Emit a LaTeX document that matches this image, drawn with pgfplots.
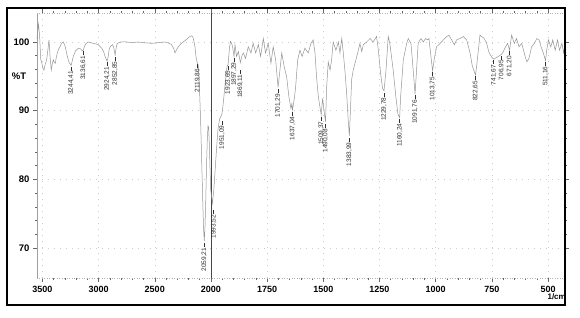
\documentclass[border=0pt]{standalone}
\usepackage{fontspec}
\setmainfont{Liberation Sans}
\usepackage{pgfplots}
\usepackage{pgfplotstable}
\pgfplotsset{compat=1.18}
\definecolor{curvegray}{HTML}{959595}
\definecolor{labgray}{HTML}{303030}
\pgfplotstableread{
nu T
3548 100.5
3535 102.6
3525 101.0
3515 97.5
3506 97.0
3496 96.2
3486 95.9
3474 96.8
3462 97.4
3450 99.0
3441 100.3
3432 98.0
3421 95.9
3412 96.8
3403 97.4
3394 97.0
3385 96.9
3376 97.8
3367 98.4
3355 99.0
3343 99.3
3330 99.8
3314 100.0
3300 99.5
3288 98.7
3278 97.9
3262 97.0
3244.41 96.6
3235 97.2
3225 97.9
3205 98.7
3181 99.1
3160 99.0
3145 98.7
3136.61 98.8
3125 99.4
3110 99.8
3092 100.0
3070 99.9
3047 99.8
3020 99.7
3003 99.6
2985 99.3
2972 99.1
2955 98.6
2940 97.8
2924.21 97.2
2915 97.8
2905 99.0
2893 99.4
2875 99.6
2865 99.2
2852.85 98.1
2843 99.2
2834 99.8
2800 100.0
2750 100.0
2700 99.9
2647 100.0
2600 99.9
2528 99.8
2470 99.9
2409 100.0
2370 99.8
2350 99.6
2330 99.0
2320 98.4
2305 98.9
2291 99.3
2270 99.7
2246 100.0
2215 100.4
2187 100.8
2172 100.9
2160 100.7
2150 100.0
2142 99.3
2133 97.9
2125 97.2
2119.86 96.9
2112 96.5
2105 94.5
2098 91.5
2090 87.5
2082 82.5
2074 77.5
2066 73.0
2059.21 71.0
2053 73.0
2046 77.0
2040 81.5
2033 85.5
2026 87.8
2020 87.5
2014 85.0
2008 81.5
2002 78.5
1993.52 76.5
1987 78.5
1981 81.5
1975 84.5
1968 87.5
1961 88.8
1955 89.2
1951.09 89.5
1946 90.8
1938 93.5
1930 96.0
1927 96.6
1923.65 96.7
1918 99.0
1913 100.1
1908 99.8
1903 99.2
1897.29 97.9
1893 99.6
1886 97.9
1878 98.6
1869.11 97.0
1862 98.0
1856 98.4
1846 97.6
1834 99.3
1822 98.4
1812 99.8
1801 98.4
1789 99.6
1779 97.9
1767 100.5
1757 98.4
1745 99.8
1733 96.9
1723 99.3
1712 97.4
1701.29 93.4
1693 95.9
1685 98.4
1674 96.4
1663 94.9
1653 92.0
1644 90.3
1640 91.0
1637.04 90.1
1628 92.0
1623 93.5
1614 97.4
1604 98.8
1594 97.9
1582 99.1
1567 98.4
1555 99.8
1545 100.3
1537 98.4
1530 94.9
1522 92.0
1509.37 89.4
1503 91.8
1497 90.0
1490.08 88.4
1485 93.5
1478 97.1
1470 95.9
1463 97.4
1456 100.0
1444 98.8
1433 100.0
1426 98.4
1418 100.5
1411 98.4
1404 95.9
1396 92.5
1389 88.5
1383.99 86.3
1378 91.1
1374 94.5
1367 95.9
1355 97.4
1344 98.8
1337 99.8
1329 98.6
1322 99.6
1307 100.0
1292 100.5
1278 100.0
1263 100.8
1255 98.8
1245 95.4
1236 93.2
1229.78 92.9
1221 95.9
1211 100.8
1204 99.8
1189 95.9
1177 92.0
1168 89.5
1160.24 89.0
1156 92.0
1144 97.4
1129 99.8
1122 100.5
1110 99.8
1100 95.9
1091.76 92.4
1085 95.9
1078 99.8
1066 100.5
1055 100.0
1045 100.5
1036 100.3
1030 100.5
1021 97.9
1013.75 95.8
1007 97.4
996 99.3
974 100.0
951 100.8
941 101.0
929 100.3
917 99.6
907 100.3
892 100.5
877 100.8
862 100.3
847 98.4
837 96.5
822.65 95.2
818 96.4
810 98.8
803 101.0
784 100.5
773 99.8
763 98.5
751 97.8
741.67 97.5
736 97.6
721 97.9
706.95 98.2
699 98.6
692 99.1
680 99.8
671.20 98.8
662 101.0
650 99.8
640 100.5
629 99.3
617 99.8
602 97.9
594 97.1
585 97.6
573 99.3
561 99.8
550 100.5
540 100.3
531 99.3
521 98.4
511.16 97.3
506 98.8
498 100.3
488 99.3
479 100.3
468 98.8
458 100.3
449 98.8
438 99.8
431 98.4
425 99.5
}\spectrum
\pgfplotstableread{
nu T lab
3244.41 96.5 3244,41
3136.61 98.7 3136,61
2924.21 97.1 2924,21
2852.85 97.9 2852,85
2119.86 96.8 2119,86
2059.21 70.8 2059,21
1987.5 75.6 1993,52
1951.09 88.6 1951,09
1923.65 96.6 1923,65
1897.29 97.8 1897,29
1869.11 96.0 1869,11
1701.29 93.2 1701,29
1637.04 89.9 1637,04
1509.37 89.2 1509,37
1490.08 88.1 1490,08
1383.99 86.1 1383,99
1229.78 92.7 1229,78
1160.24 88.9 1160,24
1091.76 92.3 1091,76
1013.75 95.7 1013,75
822.65 95.1 822,65
741.67 97.4 741,67
706.95 98.1 706,95
671.20 98.7 671,20
511.16 97.2 511,16
}\peaks
\begin{document}
\begin{tikzpicture}[x=1pt,y=1pt]
\useasboundingbox (0,0) rectangle (580,317);
\fill[white] (0,0) rectangle (580,317);
\begin{axis}[
  at={(37pt,39pt)}, anchor=south west,
  scale only axis, width=528pt, height=265pt,
  xmin=424.5, xmax=2774, ymin=65.63, ymax=104.22,
  x dir=reverse,
  xtick={500,750,1000,1250,1500,1750,2000,2250,2500,2750},
  xticklabels={500,750,1000,1250,1500,1750,2000,2500,3000,3500},
  ytick={70,80,90,100},
  minor x tick num=4, minor y tick num=4,
  tick align=outside,
  major tick length=4pt, minor tick length=2pt,
  every tick/.style={gray!80!black, line width=0.5pt},
  axis line style={draw=none},
  grid=major,
  major grid style={gray!40, dash pattern=on 1pt off 5pt, line width=0.4pt},
  /pgf/number format/assume math mode=true,
  xticklabel style={font=\fontsize{9}{10}\selectfont\bfseries, yshift=-1pt},
  yticklabel style={font=\fontsize{9.5}{10}\selectfont\bfseries},
  clip=false,
]
\draw[gray!75, line width=0.6pt] (rel axis cs:0,0) -- (rel axis cs:0,1);
\draw[gray!60, dash pattern=on 1pt off 1.5pt, line width=0.5pt] (rel axis cs:0,1) -- (rel axis cs:1,1);
\draw[gray!60, dash pattern=on 1pt off 1.5pt, line width=0.5pt] (rel axis cs:0,0) -- (rel axis cs:1,0);
\draw[gray!55!black, line width=0.8pt] (axis cs:2000,65.63) -- (axis cs:2000,104.22);
\addplot[color=curvegray, line width=0.5pt, mark=none]
  table[x expr={\thisrow{nu}>2000 ? 1000+0.5*\thisrow{nu} : \thisrow{nu}}, y=T] {\spectrum};
\addplot[draw=none, mark=none, nodes near coords={\pgfplotspointmeta\kern0.8pt\rule[0.55ex]{4pt}{0.35pt}},
  point meta=explicit symbolic,
  every node near coord/.append style={rotate=90, anchor=east, inner sep=0.3pt,
    font=\fontsize{6.5}{6.5}\selectfont, text=labgray}]
  table[x expr={\thisrow{nu}>2000 ? 1000+0.5*\thisrow{nu} : \thisrow{nu}}, y=T, meta=lab] {\peaks};
\end{axis}
\node[font=\fontsize{9.5}{10}\selectfont\bfseries, anchor=center] at (19,241) {\%T};
\node[font=\fontsize{8}{9}\selectfont\bfseries, anchor=east, inner sep=0pt] at (566,20) {1/cm};
\draw[black, line width=1.3pt] (7,12) rectangle (565,309);
\end{tikzpicture}
\end{document}
